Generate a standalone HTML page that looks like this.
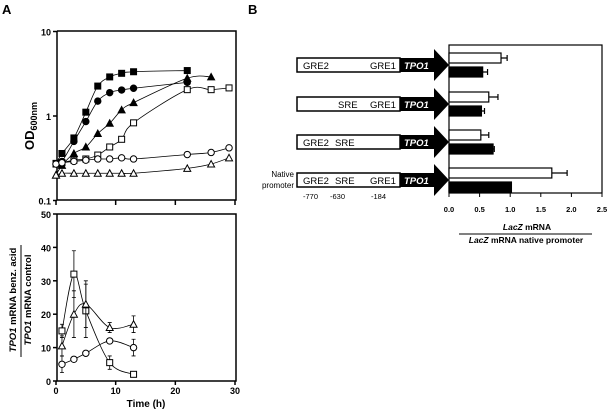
<!DOCTYPE html>
<html><head><meta charset="utf-8"><style>
body{margin:0;background:#fff;}
svg{display:block;font-family:"Liberation Sans",Arial,sans-serif;font-weight:bold;}
</style></head><body>
<svg id="c" width="609" height="411" viewBox="0 0 609 411" xmlns="http://www.w3.org/2000/svg">
<text x="2" y="14" font-size="13">A</text>
<text x="248" y="14" font-size="13">B</text>
<g id="top"></g>
<g id="bot"></g>
<g id="right"></g>
</svg>
<script>
// ---- growth curves (OD600, log scale) ----
const growthSeries = ["filledSquare","filledCircle","filledTriangle","openSquare","openCircle","openTriangle"];
const tSq = [0,1,3,5,7,9,11,13,22];
const vSq = [0.275,0.36,0.55,1.11,2.26,2.9,3.2,3.34,3.45];
const tCi = [0,1,3,5,7,9,11,13,22];
const vCi = [0.27,0.29,0.5,0.86,1.5,1.89,2.03,2.13,2.5];
const tTr = [0,1,3,5,7,9,11,13,22,26];
const vTr = [0.2,0.26,0.36,0.43,0.62,0.82,1.18,1.44,2.8,2.9];
const tOSq = [0,1,3,5,7,9,11,13,22,26,29];
const vOSq = [0.27,0.28,0.3,0.31,0.345,0.43,0.53,0.83,2.05,2.05,2.15];
const tOCi = [0,1,3,5,7,9,11,13,22,26,29];
const vOCi = [0.27,0.28,0.29,0.3,0.31,0.31,0.32,0.31,0.35,0.37,0.42];
const tOTr = [0,1,3,5,7,9,11,13,22,26,29];
const vOTr = [0.2,0.21,0.21,0.21,0.21,0.21,0.21,0.21,0.24,0.27,0.32];
const yTopTicks = ["10","1","0.1"];
// ---- mRNA ratio ----
const tM = [1,3,5,9,13];
const mSq = [15,32,21,5.5,2];
const eSq = [2,7,8,2,0.5];
const mTr = [10.5,20,23,16,17];
const eTr = [3,7,7,1.5,2.5];
const mCi = [5,6.5,8.3,12,10];
const eCi = [2.5,0.5,0.5,0.5,2.5];
const xTicks = [0,10,20,30];
const yBotTicks = [0,10,20,30,40,50];
// ---- bar chart ----
const constructs = ["dGRE1-less","dGRE2","dGRE1","native"];
const openBars = [0.85,0.65,0.52,1.68];
const openErr = [0.1,0.15,0.13,0.25];
const filledBars = [0.55,0.53,0.72,1.02];
const filledErr = [0.08,0.05,0.02,0];
const barTicks = ["0.0","0.5","1.0","1.5","2.0","2.5"];

const NS="http://www.w3.org/2000/svg";
function mk(p,tag,a){const e=document.createElementNS(NS,tag);for(const k in a)e.setAttribute(k,a[k]);p.appendChild(e);return e;}
const tx=t=>56+t*(179/30);
const ly=v=>116-Math.log10(v)*84.5;
const by=v=>381-v*3.34;
const gTop=document.getElementById('top'),bot=document.getElementById('bot'),right=document.getElementById('right');

function smooth(pts){
  let d=`M${pts[0][0]},${pts[0][1]}`;
  for(let i=0;i<pts.length-1;i++){
    const p0=pts[i-1]||pts[i],p1=pts[i],p2=pts[i+1],p3=pts[i+2]||p2;
    const c1=[p1[0]+(p2[0]-p0[0])/6,p1[1]+(p2[1]-p0[1])/6],c2=[p2[0]-(p3[0]-p1[0])/6,p2[1]-(p3[1]-p1[1])/6];
    d+=` C${c1[0]},${c1[1]} ${c2[0]},${c2[1]} ${p2[0]},${p2[1]}`;
  }
  return d;
}
function marker(g,shape,fill,x,y,name){
  let e;
  const st={stroke:'#000','stroke-width':1,fill:fill?'#000':'#fff'};
  if(shape==='sq'){e=mk(g,'rect',Object.assign({x:x-3,y:y-3,width:6,height:6},st));}
  else if(shape==='ci'){e=mk(g,'circle',Object.assign({cx:x,cy:y,r:3.2},st));}
  else {e=mk(g,'polygon',Object.assign({points:`${x},${y-3.5} ${x+3.5},${y+3} ${x-3.5},${y+3}`},st));}
  
  
}
// top axes
let fr=mk(gTop,'path',{d:'M57,31 V200 H236 V31 H57',stroke:'#000','stroke-width':1.5,fill:'none'});


[10,1,0.1].forEach((v,i)=>{
  mk(gTop,'line',{x1:53,x2:57,y1:ly(v),y2:ly(v),stroke:'#000','stroke-width':1.5});
  const t=mk(gTop,'text',{x:51,y:ly(v)+4,'font-size':9,'text-anchor':'end'});t.textContent=yTopTicks[i];
  
  
});
xTicks.forEach(t=>mk(gTop,'line',{x1:tx(t),x2:tx(t),y1:200,y2:205,stroke:'#000','stroke-width':1.5}));
let yl=mk(gTop,'text',{x:0,y:0,'font-size':13,transform:'translate(34,150) rotate(-90)'});
yl.innerHTML='OD<tspan font-size="9" dy="3">600nm</tspan>';


[[tSq,vSq,'sq',1],[tCi,vCi,'ci',1],[tTr,vTr,'tr',1],[tOSq,vOSq,'sq',0],[tOCi,vOCi,'ci',0],[tOTr,vOTr,'tr',0]].forEach((s,k)=>{
  const pts=s[0].map((t,i)=>[tx(t),ly(s[1][i])]);
  const p=mk(gTop,'path',{d:smooth(pts),stroke:'#000','stroke-width':0.8,fill:'none'});
  
  
  pts.forEach(q=>marker(gTop,s[2],s[3],q[0],q[1],'growth-point'));
});
// bottom axes
fr=mk(bot,'path',{d:'M57,214 V381 H236 V214 H57',stroke:'#000','stroke-width':1.5,fill:'none'});


yBotTicks.forEach(v=>{
  mk(bot,'line',{x1:53,x2:57,y1:by(v),y2:by(v),stroke:'#000','stroke-width':1.5});
  const t=mk(bot,'text',{x:51,y:by(v)+4,'font-size':9,'text-anchor':'end'});t.textContent=v;
  
  
});
xTicks.forEach(v=>{
  mk(bot,'line',{x1:tx(v),x2:tx(v),y1:381,y2:385,stroke:'#000','stroke-width':1.5});
  const t=mk(bot,'text',{x:tx(v),y:394,'font-size':9,'text-anchor':'middle'});t.textContent=v;
  
  
});
let xt=mk(bot,'text',{x:146,y:407,'font-size':10,'text-anchor':'middle'});xt.textContent='Time (h)';


let g1=mk(bot,'text',{x:0,y:0,'font-size':9.5,'text-anchor':'middle',transform:'translate(16,300) rotate(-90)'});
g1.innerHTML='<tspan font-style="italic">TPO1</tspan> mRNA benz. acid';


mk(bot,'line',{x1:21,x2:21,y1:245,y2:357,stroke:'#000','stroke-width':1});
let g2=mk(bot,'text',{x:0,y:0,'font-size':9.5,'text-anchor':'middle',transform:'translate(31,300) rotate(-90)'});
g2.innerHTML='<tspan font-style="italic">TPO1</tspan> mRNA control';


[[mSq,eSq,'sq'],[mTr,eTr,'tr'],[mCi,eCi,'ci']].forEach(s=>{
  const pts=tM.map((t,i)=>[tx(t),by(s[0][i])]);
  const p=mk(bot,'path',{d:smooth(pts),stroke:'#000','stroke-width':0.8,fill:'none'});
  
  
  pts.forEach((q,i)=>{
    const e=s[1][i],y1=by(s[0][i]+e),y2=by(s[0][i]-e);
    mk(bot,'path',{d:`M${q[0]},${y1} V${y2} M${q[0]-2},${y1} h4 M${q[0]-2},${y2} h4`,stroke:'#000','stroke-width':0.8,fill:'none'});
    marker(bot,s[2],0,q[0],q[1],'mrna-point');
  });
});
// right panel
const bx=v=>449+v*61.2;
const gy=[65,104,142,180];
const labels=[["GRE2","","GRE1"],["","SRE","GRE1"],["GRE2","SRE",""],["GRE2","SRE","GRE1"]];
gy.forEach((y,i)=>{
  const g=mk(right,'g',{});
  
  
  mk(g,'rect',{x:297,y:y-7,width:103,height:14,fill:'#fff',stroke:'#000','stroke-width':1.5});
  mk(g,'polygon',{points:`400,${y-7} 434,${y-7} 434,${y-16} 449,${y} 434,${y+16} 434,${y+7} 400,${y+7}`,fill:'#000'});
  [0,1,2].forEach(k=>{
    if(labels[i][k]){const t=mk(g,'text',{x:k==0?303:(k==1?(i==1?338:335):370),y:y+4,'font-size':9.5,'font-weight':'normal'});t.textContent=labels[i][k];}
  });
  const tp=mk(g,'text',{x:404,y:y+4,'font-size':9.5,'font-style':'italic',fill:'#fff'});tp.textContent='TPO1';
});
[["-770",303],["-630",330],["-184",371]].forEach(a=>{const t=mk(right,'text',{x:a[1],y:199,'font-size':7.5,'font-weight':'normal'});t.textContent=a[0];});
let np=mk(right,'text',{x:294,y:177,'font-size':8,'text-anchor':'end','font-weight':'normal'});np.textContent='Native';
let np2=mk(right,'text',{x:294,y:188,'font-size':8,'text-anchor':'end','font-weight':'normal'});np2.textContent='promoter';
fr=mk(right,'rect',{x:449,y:45,width:153,height:148,fill:'none',stroke:'#000','stroke-width':1.2});


barTicks.forEach((l,i)=>{
  const x=bx(i*0.5);
  mk(right,'line',{x1:x,x2:x,y1:193,y2:197,stroke:'#000','stroke-width':1});
  const t=mk(right,'text',{x:x,y:212,'font-size':7.5,'text-anchor':'middle'});t.textContent=l;
  
  
});
constructs.forEach((c,i)=>{
  const y=gy[i];
  [[openBars,openErr,'#fff',y-12],[filledBars,filledErr,'#000',y+2]].forEach((s,k)=>{
    const r=mk(right,'rect',{x:449,y:s[3],width:bx(s[0][i])-449,height:10,fill:s[2],stroke:'#000','stroke-width':1.2});
    
    
    if(s[1][i]>0){const x2=bx(s[0][i]+s[1][i]),cy=s[3]+5;
      mk(right,'path',{d:`M${bx(s[0][i])},${cy} H${x2} M${x2},${cy-3} V${cy+3}`,stroke:'#000','stroke-width':1.2,fill:'none'});}
  });
});
let n1=mk(right,'text',{x:527,y:230,'font-size':8.5,'text-anchor':'middle'});n1.innerHTML='<tspan font-style="italic">LacZ</tspan> mRNA';


mk(right,'line',{x1:459,x2:592,y1:234,y2:234,stroke:'#000','stroke-width':1});
let n2=mk(right,'text',{x:526,y:243,'font-size':8.5,'text-anchor':'middle'});n2.innerHTML='<tspan font-style="italic">LacZ</tspan> mRNA native promoter';


</script>
</body></html>
